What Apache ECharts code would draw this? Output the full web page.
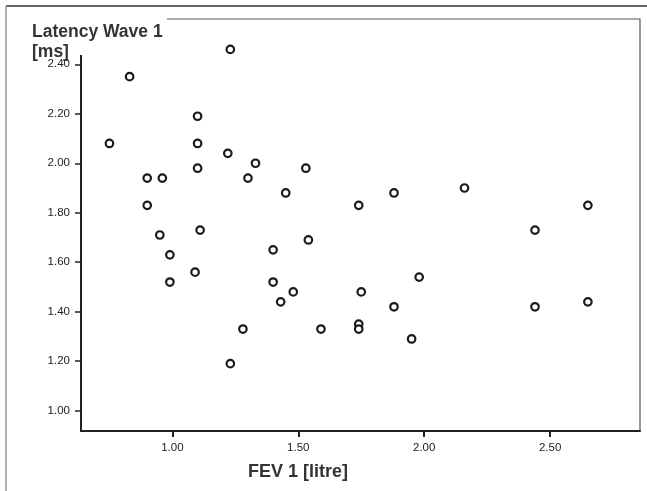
<!DOCTYPE html>
<html>
<head>
<meta charset="utf-8">
<script src="https://cdn.jsdelivr.net/npm/echarts@6/dist/echarts.min.js"></script>
<style>
  html, body { margin: 0; padding: 0; background: #fff; }
  #chart { width: 647px; height: 491px; }
</style>
</head>
<body>
<div id="chart"></div>
<script>
// FEV 1 [litre] vs Latency Wave 1 [ms]
const fev = [0.75, 0.83, 0.90, 0.96, 0.90, 0.95, 0.99, 0.99, 1.09, 1.10,
             1.10, 1.10, 1.11, 1.22, 1.23, 1.23, 1.28, 1.30, 1.33, 1.40,
             1.40, 1.43, 1.45, 1.48, 1.53, 1.54, 1.59, 1.74, 1.74, 1.74,
             1.75, 1.88, 1.88, 1.95, 1.98, 2.16, 2.44, 2.44, 2.65, 2.65];
const latency = [2.08, 2.35, 1.94, 1.94, 1.83, 1.71, 1.63, 1.52, 1.56, 2.19,
                 2.08, 1.98, 1.73, 2.04, 2.46, 1.19, 1.33, 1.94, 2.00, 1.65,
                 1.52, 1.44, 1.88, 1.48, 1.98, 1.69, 1.33, 1.83, 1.35, 1.33,
                 1.48, 1.88, 1.42, 1.29, 1.54, 1.90, 1.73, 1.42, 1.83, 1.44];
const xTicks = [1.0, 1.5, 2.0, 2.5];
const yTicks = [1.0, 1.2, 1.4, 1.6, 1.8, 2.0, 2.2, 2.4];

const points = fev.map((v, i) => [v, latency[i]]);

const chart = echarts.init(document.getElementById('chart'));
chart.setOption({
  animation: false,
  backgroundColor: '#fff',
  grid: {
    left: 81, right: 7, top: 19, bottom: 60,
    show: true, borderColor: '#555', borderWidth: 1.2, backgroundColor: 'transparent'
  },
  xAxis: {
    type: 'value', min: 0.637, max: 2.857,
    axisLine: { onZero: false, lineStyle: { color: '#222', width: 2 } },
    axisTick: { customValues: xTicks, length: 6, lineStyle: { color: '#222', width: 2 } },
    axisLabel: {
      customValues: xTicks, margin: 11, color: '#222', fontSize: 11.5,
      fontFamily: 'Liberation Sans, Arial', formatter: v => v.toFixed(2)
    },
    splitLine: { show: false }
  },
  yAxis: {
    type: 'value', min: 0.918, max: 2.583,
    axisLine: { onZero: false, lineStyle: { color: '#222', width: 2 } },
    axisTick: { customValues: yTicks, length: 6, lineStyle: { color: '#222', width: 1.5 } },
    axisLabel: {
      customValues: yTicks, margin: 11, color: '#222', fontSize: 11.5,
      fontFamily: 'Liberation Sans, Arial', formatter: v => v.toFixed(2)
    },
    splitLine: { show: false }
  },
  series: [{
    type: 'scatter',
    data: points,
    symbol: 'circle',
    symbolSize: 7.5,
    itemStyle: { color: '#fff', borderColor: '#1a1a1a', borderWidth: 2.2, opacity: 1 }
  }],
  graphic: [
    // outer frame, left and top edges
    { type: 'line', z: 50, shape: { x1: 6, y1: 6, x2: 647, y2: 6 }, style: { stroke: '#333', lineWidth: 1.5 } },
    { type: 'line', z: 50, shape: { x1: 6, y1: 6, x2: 6, y2: 491 }, style: { stroke: '#999', lineWidth: 1.5 } },
    // white patch behind the y-axis title (kept above the 2.40 label)
    { type: 'rect', z: 100, shape: { x: 20, y: 12, width: 147, height: 43 }, style: { fill: '#fff' } },
    {
      type: 'text', z: 110, left: 32, top: 22,
      style: {
        text: 'Latency Wave 1\n[ms]', fill: '#333',
        font: 'bold 17.5px "Liberation Sans", Arial', lineHeight: 20
      }
    },
    {
      type: 'text', z: 110, left: 248, top: 463,
      style: { text: 'FEV 1 [litre]', fill: '#333', font: 'bold 18px "Liberation Sans", Arial' }
    }
  ]
});
</script>
</body>
</html>
